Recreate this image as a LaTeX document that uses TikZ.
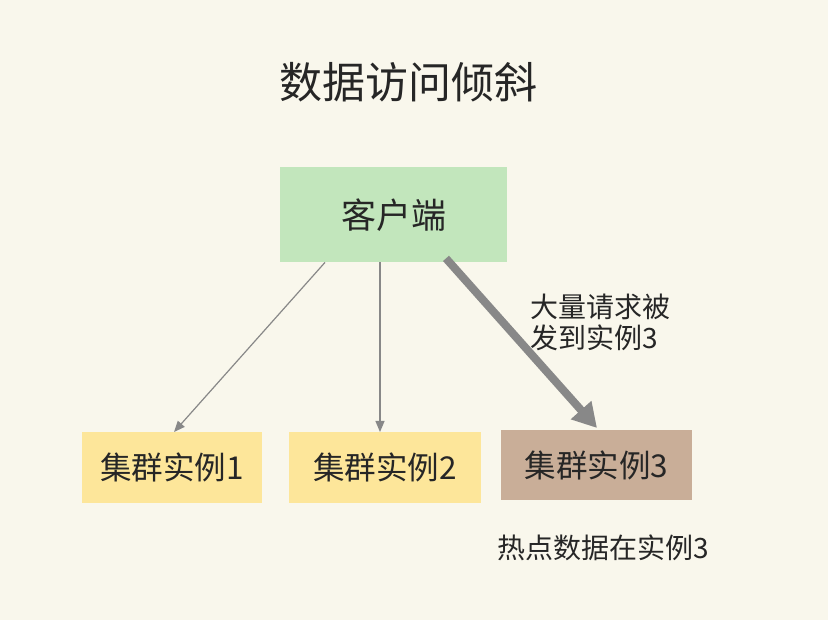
\documentclass[tikz,border=0pt]{standalone}
\usepackage{fontspec}
\setmainfont{Noto Sans CJK SC}
\usetikzlibrary{arrows.meta}
\definecolor{bg}{HTML}{F9F7EC}
\definecolor{clientfill}{HTML}{C2E6BC}
\definecolor{instfill}{HTML}{FDE69A}
\definecolor{hotfill}{HTML}{C9AE98}
\definecolor{arrowgray}{HTML}{888888}
\tikzset{
  box/.style={inner sep=0pt, anchor=north west, font=\fontsize{31.5}{36}\selectfont, text=black!85},
  thinarrow/.style={draw=arrowgray, line width=1.2pt, -{Triangle[length=11pt,width=9pt]}},
  thickarrow/.style={draw=arrowgray, line width=8pt, -{Triangle[length=24pt,width=26pt]}},
  lbl/.style={font=\fontsize{28}{31}\selectfont, text=black!85, align=left, inner sep=0pt}
}
\begin{document}
\begin{tikzpicture}[x=1pt,y=-1pt]
\fill[bg] (0,0) rectangle (828,620);
\useasboundingbox (0,0) rectangle (828,620);
\node[font=\fontsize{43}{48}\selectfont, text=black!85] (title) at (408,82) {数据访问倾斜};
\node[box, fill=clientfill, minimum width=227pt, minimum height=95pt, font=\fontsize{35}{40}\selectfont] (client) at (280,167) {客户端};
\node[box, fill=instfill, minimum width=180pt, minimum height=71pt] (i1) at (82,432) {集群实例1};
\node[box, fill=instfill, minimum width=192pt, minimum height=71pt] (i2) at (289,432) {集群实例2};
\node[box, fill=hotfill, minimum width=191pt, minimum height=70pt] (i3) at (501,430) {集群实例3};
\path (client.south west) ++(45,0) coordinate (s1);
\path (i1.north west) ++(92,0) coordinate (t1);
\path (client.south west) ++(100,0) coordinate (s2);
\path (i2.north west) ++(91,0) coordinate (t2);
\path (client.south west) ++(166,-4) coordinate (s3);
\path (i3.north west) ++(96,-2) coordinate (t3);
\draw[thinarrow] (s1) -- (t1);
\draw[thinarrow] (s2) -- (t2);
\draw[thickarrow] (s3) -- (t3);
\node[lbl, anchor=west] (req) at (530,322) {大量请求被\\发到实例3};
\node[lbl, anchor=west] (hot) at (497,548) {热点数据在实例3};
\end{tikzpicture}
\end{document}
